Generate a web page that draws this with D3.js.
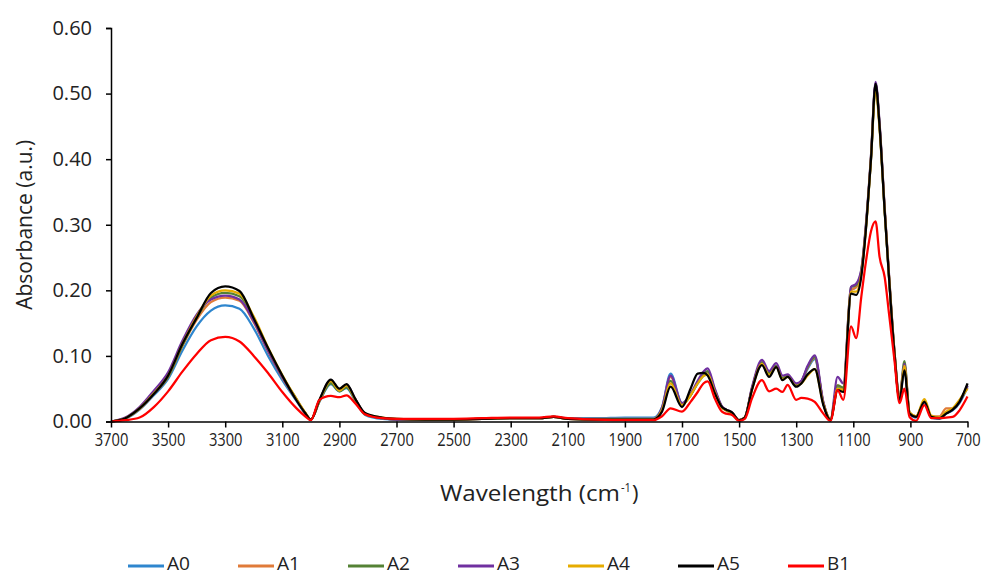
<!DOCTYPE html>
<html>
<head>
<meta charset="utf-8">
<script src="https://cdn.jsdelivr.net/npm/d3@7"></script>
<style>
  body { margin: 0; background: #fff; }
  svg { display: block; }
</style>
</head>
<body>
<svg id="chart"></svg>
<script>
// wavenumber grid (cm-1)
const wavenumbers = [3700, 3650, 3600, 3550, 3500, 3450, 3400, 3350, 3300, 3250, 3200, 3150, 3100, 3050, 3020, 3000,
  2970, 2930, 2900, 2875, 2845, 2810, 2750, 2700, 2600, 2500, 2400, 2300, 2200, 2150, 2100, 2000, 1900, 1800,
  1770, 1740, 1700, 1670, 1645, 1625, 1610, 1585, 1560, 1545, 1525, 1500, 1480, 1455, 1420, 1395, 1370, 1348,
  1330, 1300, 1282, 1260, 1235, 1205, 1180, 1155, 1135, 1108, 1090, 1072, 1055, 1038, 1022, 1008, 990, 975,
  956, 938, 921, 903, 880, 851, 827, 798, 775, 752, 728, 700];

const A0 = [0.000, 0.004, 0.018, 0.040, 0.065, 0.108, 0.145, 0.169, 0.177, 0.172, 0.142, 0.100, 0.063, 0.031, 0.012, 0.003,
  0.030, 0.057, 0.046, 0.051, 0.032, 0.010, 0.004, 0.003, 0.003, 0.003, 0.004, 0.005, 0.005, 0.007, 0.005, 0.005, 0.006, 0.006,
  0.022, 0.073, 0.028, 0.040, 0.058, 0.070, 0.075, 0.048, 0.022, 0.017, 0.013, 0.002, 0.006, 0.050, 0.090, 0.075, 0.085, 0.066,
  0.069, 0.055, 0.061, 0.080, 0.095, 0.028, 0.003, 0.052, 0.050, 0.200, 0.205, 0.228, 0.300, 0.400, 0.512, 0.450, 0.320, 0.220,
  0.104, 0.035, 0.080, 0.013, 0.006, 0.030, 0.006, 0.004, 0.012, 0.017, 0.028, 0.052];
const A1 = [0.000, 0.005, 0.019, 0.042, 0.068, 0.115, 0.155, 0.182, 0.189, 0.184, 0.151, 0.107, 0.067, 0.033, 0.013, 0.003,
  0.031, 0.060, 0.047, 0.054, 0.034, 0.011, 0.005, 0.003, 0.003, 0.003, 0.004, 0.005, 0.005, 0.007, 0.004, 0.004, 0.004, 0.004,
  0.020, 0.068, 0.027, 0.040, 0.060, 0.072, 0.076, 0.047, 0.022, 0.017, 0.013, 0.002, 0.006, 0.050, 0.090, 0.074, 0.085, 0.066,
  0.070, 0.055, 0.061, 0.082, 0.097, 0.028, 0.003, 0.055, 0.050, 0.200, 0.205, 0.228, 0.300, 0.402, 0.514, 0.452, 0.322, 0.222,
  0.106, 0.035, 0.085, 0.013, 0.008, 0.031, 0.008, 0.008, 0.020, 0.020, 0.032, 0.052];
const A2 = [0.000, 0.005, 0.020, 0.043, 0.068, 0.116, 0.158, 0.189, 0.196, 0.191, 0.157, 0.111, 0.069, 0.034, 0.013, 0.003,
  0.031, 0.058, 0.046, 0.052, 0.034, 0.011, 0.005, 0.003, 0.003, 0.003, 0.004, 0.005, 0.005, 0.007, 0.004, 0.003, 0.003, 0.003,
  0.019, 0.062, 0.026, 0.040, 0.060, 0.073, 0.077, 0.047, 0.022, 0.017, 0.013, 0.002, 0.006, 0.050, 0.090, 0.074, 0.085, 0.066,
  0.070, 0.055, 0.061, 0.083, 0.098, 0.028, 0.003, 0.055, 0.052, 0.205, 0.208, 0.230, 0.302, 0.404, 0.515, 0.452, 0.322, 0.222,
  0.108, 0.036, 0.092, 0.014, 0.007, 0.031, 0.007, 0.005, 0.013, 0.018, 0.030, 0.055];
const A3 = [0.000, 0.006, 0.022, 0.047, 0.075, 0.123, 0.163, 0.186, 0.192, 0.186, 0.153, 0.108, 0.068, 0.033, 0.013, 0.003,
  0.032, 0.063, 0.048, 0.056, 0.035, 0.012, 0.005, 0.003, 0.003, 0.003, 0.004, 0.005, 0.005, 0.007, 0.004, 0.003, 0.003, 0.003,
  0.021, 0.070, 0.028, 0.042, 0.062, 0.076, 0.081, 0.050, 0.023, 0.018, 0.014, 0.002, 0.006, 0.052, 0.094, 0.077, 0.089, 0.070,
  0.072, 0.058, 0.062, 0.085, 0.101, 0.030, 0.003, 0.068, 0.058, 0.205, 0.210, 0.232, 0.305, 0.406, 0.518, 0.455, 0.325, 0.225,
  0.108, 0.036, 0.088, 0.013, 0.007, 0.030, 0.007, 0.005, 0.013, 0.018, 0.030, 0.055];
const A4 = [0.000, 0.005, 0.020, 0.043, 0.070, 0.118, 0.160, 0.192, 0.200, 0.195, 0.160, 0.113, 0.071, 0.034, 0.014, 0.003,
  0.032, 0.062, 0.047, 0.055, 0.034, 0.012, 0.006, 0.004, 0.003, 0.003, 0.004, 0.005, 0.005, 0.007, 0.004, 0.003, 0.003, 0.003,
  0.018, 0.058, 0.025, 0.040, 0.058, 0.069, 0.072, 0.045, 0.021, 0.017, 0.013, 0.002, 0.006, 0.048, 0.088, 0.071, 0.083, 0.064,
  0.068, 0.054, 0.058, 0.070, 0.080, 0.027, 0.003, 0.050, 0.048, 0.198, 0.198, 0.225, 0.298, 0.400, 0.505, 0.446, 0.320, 0.222,
  0.106, 0.035, 0.085, 0.014, 0.008, 0.034, 0.009, 0.006, 0.015, 0.020, 0.033, 0.050];
const A5 = [0.000, 0.005, 0.020, 0.042, 0.070, 0.118, 0.158, 0.196, 0.206, 0.199, 0.157, 0.112, 0.070, 0.032, 0.013, 0.003,
  0.033, 0.064, 0.050, 0.057, 0.035, 0.013, 0.006, 0.004, 0.003, 0.003, 0.004, 0.005, 0.005, 0.007, 0.004, 0.003, 0.003, 0.003,
  0.015, 0.053, 0.022, 0.050, 0.073, 0.074, 0.070, 0.043, 0.022, 0.018, 0.014, 0.002, 0.006, 0.048, 0.086, 0.068, 0.083, 0.063,
  0.068, 0.053, 0.058, 0.072, 0.080, 0.025, 0.002, 0.048, 0.045, 0.195, 0.193, 0.221, 0.297, 0.400, 0.515, 0.450, 0.320, 0.220,
  0.104, 0.033, 0.078, 0.012, 0.007, 0.030, 0.007, 0.005, 0.012, 0.018, 0.030, 0.058];
const B1 = [0.000, 0.002, 0.006, 0.022, 0.046, 0.076, 0.103, 0.124, 0.129, 0.122, 0.100, 0.074, 0.045, 0.020, 0.008, 0.002,
  0.033, 0.039, 0.037, 0.040, 0.028, 0.011, 0.005, 0.004, 0.004, 0.004, 0.005, 0.006, 0.006, 0.008, 0.005, 0.003, 0.002, 0.002,
  0.008, 0.020, 0.015, 0.030, 0.045, 0.058, 0.061, 0.035, 0.015, 0.012, 0.010, 0.001, 0.004, 0.035, 0.063, 0.046, 0.050, 0.045,
  0.056, 0.033, 0.036, 0.035, 0.030, 0.012, 0.001, 0.048, 0.033, 0.145, 0.127, 0.190, 0.246, 0.290, 0.305, 0.251, 0.220, 0.165,
  0.094, 0.028, 0.050, 0.007, 0.001, 0.025, 0.005, 0.005, 0.006, 0.007, 0.017, 0.038];

const seriesNames = ["A0", "A1", "A2", "A3", "A4", "A5", "B1"];
const seriesValues = [A0, A1, A2, A3, A4, A5, B1];
const seriesColors = ["#2E86CE", "#E07B39", "#548235", "#7030A0", "#E6AC00", "#000000", "#FF0000"];

const xTicks = d3.range(3700, 699, -200);
const yTicks = [0, 0.1, 0.2, 0.3, 0.4, 0.5, 0.6];

const width = 990, height = 576;
const svg = d3.select("#chart").attr("width", width).attr("height", height);

const x = d3.scaleLinear().domain([3700, 700]).range([111, 967.5]);
const y = d3.scaleLinear().domain([0, 0.6]).range([421.5, 28]);

const font = "'Open Sans', sans-serif";

// lines
const line = d3.line()
  .x(d => x(d[0]))
  .y(d => y(d[1]))
  .curve(d3.curveMonotoneX);

seriesNames.forEach((name, i) => {
  const pts = wavenumbers.map((w, j) => [w, seriesValues[i][j]]);
  svg.append("path")
    .datum(pts)
    .attr("fill", "none")
    .attr("stroke", seriesColors[i])
    .attr("stroke-width", 2.25)
    .attr("stroke-linejoin", "round")
    .attr("d", line);
});

// y axis
const yAxis = svg.append("g")
  .attr("transform", `translate(${x(3700)},0)`)
  .call(d3.axisLeft(y).tickValues(yTicks).tickFormat(d3.format(".2f")).tickSize(5).tickPadding(14));
yAxis.select(".domain").attr("stroke", "#000").attr("stroke-width", 1.5);
yAxis.selectAll(".tick line").attr("stroke", "#000").attr("stroke-width", 1.5);
yAxis.selectAll("text").attr("font-family", font).attr("font-size", 20).attr("fill", "#222");

// x axis (narrow labels, like the original)
const xAxis = svg.append("g")
  .attr("transform", `translate(0,${y(0)})`)
  .call(d3.axisBottom(x).tickValues(xTicks).tickFormat(d3.format("d")).tickSize(6).tickSizeOuter(0).tickPadding(5));
xAxis.select(".domain").attr("stroke", "#000").attr("stroke-width", 1.5);
xAxis.selectAll(".tick line").attr("stroke", "#000").attr("stroke-width", 1.5);
xAxis.selectAll("text")
  .attr("font-family", font)
  .attr("font-size", 19)
  .attr("fill", "#222")
  .attr("textLength", d => String(d).length * 8.4)
  .attr("lengthAdjust", "spacingAndGlyphs");

// axis titles
svg.append("text")
  .attr("transform", `translate(32,${(y(0) + y(0.6)) / 2}) rotate(-90)`)
  .attr("text-anchor", "middle")
  .attr("font-family", font)
  .attr("font-size", 21)
  .attr("fill", "#222")
  .text("Absorbance (a.u.)");

const xTitle = svg.append("g").attr("transform", "translate(540,501)");
xTitle.append("text")
  .attr("x", -100)
  .attr("font-family", font)
  .attr("font-size", 22)
  .attr("fill", "#222")
  .attr("textLength", 180)
  .attr("lengthAdjust", "spacingAndGlyphs")
  .text("Wavelength (cm");
xTitle.append("text")
  .attr("x", 81)
  .attr("y", -9)
  .attr("font-family", font)
  .attr("font-size", 13)
  .attr("fill", "#222")
  .attr("textLength", 10)
  .attr("lengthAdjust", "spacingAndGlyphs")
  .text("-1");
xTitle.append("text")
  .attr("x", 92)
  .attr("font-family", font)
  .attr("font-size", 22)
  .attr("fill", "#222")
  .text(")");

// legend
const legend = svg.append("g");
seriesNames.forEach((name, i) => {
  const lx = 128 + i * 110;
  legend.append("line")
    .attr("x1", lx).attr("x2", lx + 36)
    .attr("y1", 566).attr("y2", 566)
    .attr("stroke", seriesColors[i])
    .attr("stroke-width", 3);
  legend.append("text")
    .attr("x", lx + 39)
    .attr("y", 570)
    .attr("font-family", font)
    .attr("font-size", 19)
    .attr("fill", "#222")
    .attr("textLength", 23)
    .attr("lengthAdjust", "spacingAndGlyphs")
    .text(name);
});
</script>
</body>
</html>
